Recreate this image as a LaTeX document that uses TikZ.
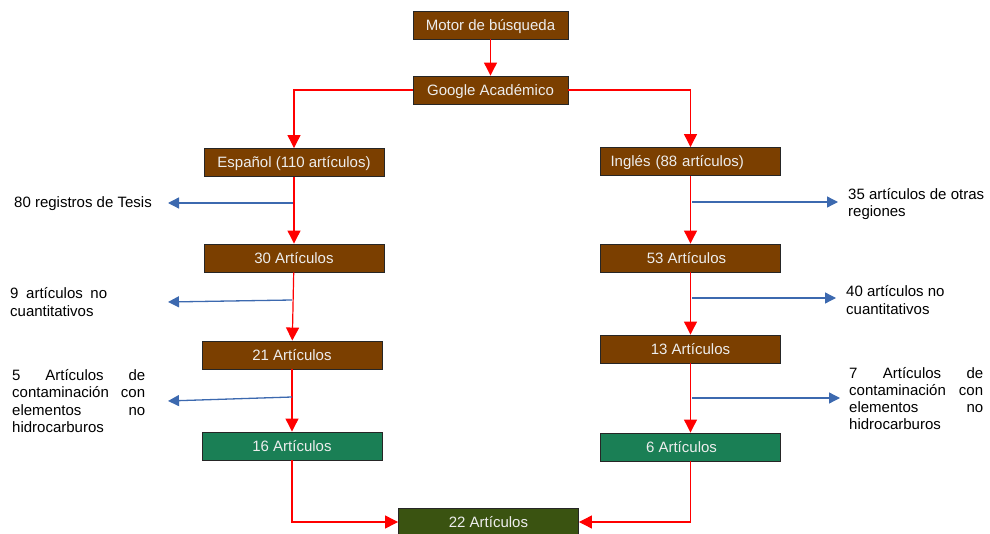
\documentclass[tikz,border=0pt]{standalone}
\usepackage{fontspec}
\setmainfont{Liberation Sans}
\usetikzlibrary{arrows.meta}
\definecolor{brownc}{RGB}{123,63,0}
\definecolor{greenc}{RGB}{26,127,85}
\definecolor{dgreenc}{RGB}{58,83,17}
\definecolor{bluec}{RGB}{60,105,175}
\begin{document}
\begin{tikzpicture}[x=1pt,y=-1pt,
  box/.style={draw=black!85, line width=0.9pt, minimum width=180pt, minimum height=28pt,
    inner sep=0pt, text height=12pt, text depth=1.2pt, text=white!93!black, font=\fontsize{15}{18}\selectfont},
  bbox/.style={box, fill=brownc},
  gbox/.style={box, fill=greenc},
  ra/.style={draw=red, line width=1.2pt, -{Triangle[width=13pt,length=13pt]}},
  ba/.style={draw=bluec, line width=1.3pt, -{Triangle[width=11pt,length=11pt]}},
  lbl/.style={font=\fontsize{15}{17.3}\selectfont, inner sep=0pt, align=left, anchor=west}
]
\useasboundingbox (0,0) rectangle (990,534);

% boxes
\node[bbox, minimum width=155pt] (motor) at (490.5,25) {Motor de búsqueda};
\node[bbox, minimum width=155pt] (google) at (490.5,90) {Google Académico};
\node[bbox] (esp) at (294,162.5) {Español (110 artículos)};
\node[bbox, text width=160pt, align=left] (ing) at (690.5,161.5) {Inglés (88 artículos)};
\node[bbox] (e30) at (294,258) {30 Artículos};
\node[bbox] (i53) at (690.5,258) {53 Artículos\hspace*{8pt}};
\node[bbox] (e21) at (292,355) {21 Artículos};
\node[bbox] (i13) at (690.5,349) {13 Artículos};
\node[gbox] (e16) at (292,446) {16 Artículos};
\node[gbox] (i6) at (690.5,447) {6 Artículos\hspace*{18pt}};
\node[box, fill=dgreenc] (total) at (488.5,522) {22 Artículos};

% red connectors
\draw[ra] (motor) -- (google);
\draw[ra] (google.west) -| (esp.north);
\draw[ra] (google.east) -| (ing.north);
\draw[ra] (esp) -- (e30);
\draw[ra] (e30) -- (e21);
\draw[ra] (e21) -- (e16);
\draw[ra] (ing) -- (i53);
\draw[ra] (i53) -- (i13);
\draw[ra] (i13) -- (i6);
\draw[ra] (e16.south) |- (total.west);
\draw[ra] (i6.south) |- (total.east);

% side labels
\node[lbl] (l1) at (14,204) {80 registros de Tesis};
\node[lbl] (l2) at (10,302) {\makebox[97pt][s]{9 artículos no}\\cuantitativos};
\node[lbl] (l3) at (12,401) {\makebox[133pt][s]{5 Artículos de}\\\makebox[133pt][s]{contaminación con}\\\makebox[133pt][s]{elementos no}\\hidrocarburos};
\node[lbl] (r1) at (848,204) {35 artículos de otras\\regiones};
\node[lbl] (r2) at (846,300) {40 artículos no\\cuantitativos};
\node[lbl] (r3) at (849,398.5) {\makebox[134pt][s]{7 Artículos de}\\\makebox[134pt][s]{contaminación con}\\\makebox[134pt][s]{elementos no}\\hidrocarburos};

% blue connectors
\coordinate (s1) at (293,203);   \coordinate (t1) at (168,203);
\coordinate (s2) at (292,300);   \coordinate (t2) at (168,302);
\coordinate (s3) at (292,397);   \coordinate (t3) at (168,401);
\coordinate (s4) at (692,202);   \coordinate (t4) at (838,202);
\coordinate (s5) at (692,298);   \coordinate (t5) at (836,298);
\coordinate (s6) at (692,398);   \coordinate (t6) at (840,398);
\draw[ba] (s1) -- (t1);
\draw[ba] (s2) -- (t2);
\draw[ba] (s3) -- (t3);
\draw[ba] (s4) -- (t4);
\draw[ba] (s5) -- (t5);
\draw[ba] (s6) -- (t6);
\end{tikzpicture}
\end{document}
